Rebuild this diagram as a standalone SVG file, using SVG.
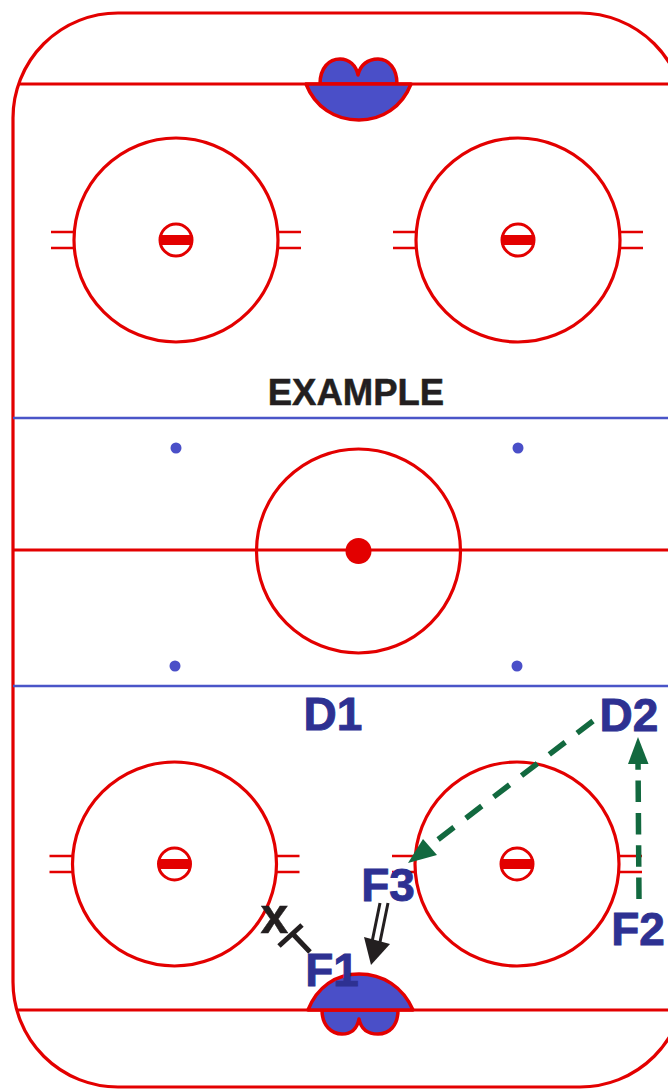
<svg xmlns="http://www.w3.org/2000/svg" width="668" height="1089" viewBox="0 0 668 1089">
<defs>
<style>
.r{fill:none;stroke:#e30000;stroke-width:3.2}
.h{fill:none;stroke:#e30000;stroke-width:2.5}
.crease{fill:#4a4fc8;stroke:#e30000;stroke-width:3.5;stroke-linejoin:round}
.b{fill:none;stroke:#4a55c8;stroke-width:2.5}
.dot{fill:#4a4fc8}
.g{fill:none;stroke:#12693f;stroke-width:5.5}
.gh{fill:#12693f}
.t{font-family:"Liberation Sans",Arial,sans-serif;font-weight:700;font-size:46px;fill:#2e3192;stroke:#2e3192;stroke-width:.9}
.k{fill:#231f20}
.kt{font-family:"Liberation Sans",Arial,sans-serif;font-weight:700;fill:#231f20;stroke:#231f20}
</style>
<g id="circle-sym">
<circle class="r" cx="0" cy="0" r="102"/>
<circle cx="0" cy="0" r="16" fill="#fff" stroke="#e30000" stroke-width="3"/>
<rect x="-16.500" y="-5" width="33" height="10" fill="#e30000"/>
<path class="h" d="M-102-8H-125M-102 8H-125M102-8H125M102 8H125"/>
</g>
</defs>
<rect width="668" height="1089" fill="#fff"/>
<g id="rink">
<rect class="r" x="13" y="13" width="672" height="1074" rx="105" ry="105"/>
<path class="r" d="M19 84H668M17 1010H668M13 550H668"/>
<path class="b" d="M13 418H668M13 686H668"/>
</g>
<g id="crease-top">
<path class="crease" d="M320 84C320 68 329 59 340 59C349 59 356 65 358 75C360 65 368 59 378 59C389 59 397 69 397 84Z"/>
<path class="crease" d="M306 84H411C402 107 382 120 359 120C335 120 315 107 306 84Z"/>
</g>
<g id="crease-bottom">
<path class="crease" d="M322 1010C322 1026 332 1034 342 1034C351 1034 357 1029 359 1019C361 1029 368 1034 378 1034C389 1034 398 1026 398 1010Z"/>
<path class="crease" d="M308 1010C317 987 336 974 359 974C383 974 403 987 413 1010Z"/>
</g>
<g id="circle-tl"><use href="#circle-sym" x="176" y="240"/></g>
<g id="circle-tr"><use href="#circle-sym" x="518" y="240"/></g>
<g id="circle-bl"><use href="#circle-sym" x="174.500" y="864"/></g>
<g id="circle-br"><use href="#circle-sym" x="517" y="864"/></g>
<g id="center-circle">
<circle class="r" cx="358.500" cy="551" r="102"/>
<circle cx="358.500" cy="551" r="13" fill="#e30000"/>
</g>
<g id="dots">
<circle class="dot" cx="176" cy="448" r="5.500"/>
<circle class="dot" cx="518" cy="448" r="5.500"/>
<circle class="dot" cx="175" cy="666" r="5.500"/>
<circle class="dot" cx="517" cy="666" r="5.500"/>
</g>
<g id="connectors">
<path class="g" stroke-dasharray="20 15" d="M593 721L423 851"/>
<path class="gh" d="M408 863L423 839L437 855Z"/>
<path class="g" stroke-dasharray="21.500 10.800" d="M639 899L638 758"/>
<path class="gh" d="M638 737L648.500 764L628 764Z"/>
<path d="M380 903L372 942M388 903L380 942" fill="none" stroke="#231f20" stroke-width="3"/>
<path class="k" d="M371 965L364 937L390 944Z"/>
<path d="M310 952L291 932M279 946L302 925" fill="none" stroke="#231f20" stroke-width="5"/>
</g>
<g id="labels">
<text class="kt" x="356" y="405" text-anchor="middle" font-size="36.500" stroke-width=".5">EXAMPLE</text>
<text class="t" x="333" y="730" text-anchor="middle">D1</text>
<text class="t" x="629" y="731" text-anchor="middle">D2</text>
<text class="t" x="388" y="901" text-anchor="middle">F3</text>
<text class="t" x="638" y="945" text-anchor="middle">F2</text>
<text class="t" x="332" y="986" text-anchor="middle">F1</text>
<text class="kt" x="274.500" y="933" text-anchor="middle" font-size="50" stroke-width=".5">x</text>
</g>
</svg>
